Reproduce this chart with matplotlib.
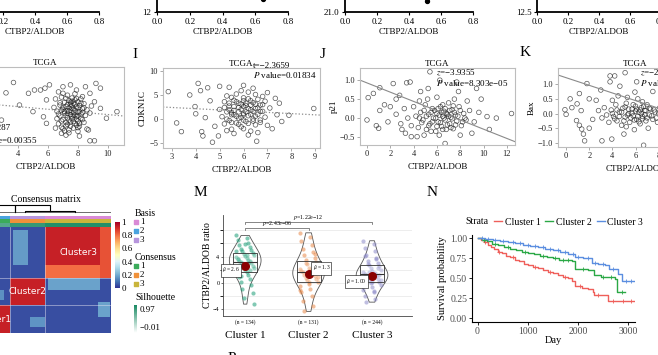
import matplotlib
matplotlib.use("Agg")
import matplotlib.pyplot as plt
import numpy as np
from matplotlib.cm import ScalarMappable
from matplotlib.colors import LinearSegmentedColormap, Normalize
from matplotlib.lines import Line2D

plt.rcParams["font.family"] = ["Liberation Serif", "DejaVu Serif"]
plt.rcParams["mathtext.fontset"] = "stix"

# ---------------- data ----------------
# top strip (bottom edge of the panels above)
strip_ticks = [0.0, 0.2, 0.4, 0.6, 0.8]
strip_yticks = [[], [12], [21.0], [12.5]]
strip_ytick_labels = [[], ["12"], ["21.0"], ["12.5"]]
strip_ylims = [(0, 1), (12, 20), (21.0, 23.0), (12.5, 15.0)]
strip_pts_x = [[], [0.65], [0.51], []]
strip_pts_y = [[], [12.9], [21.2], []]

# H: TCGA scatter (cut at the left edge)
h_x = [3.2, 2.9, 3.7, 4.1, 4.7, 5.0, 5.1, 5.5, 5.8, 6.1, 5.9, 6.5, 6.9, 7.2, 8.1, 8.7,
       8.8, 9.1, 9.2, 9.5, 9.9, 10.6, 9.5, 9.1, 8.8, 8.5, 7.9, 7.5, 7.0, 6.7, 5.7, 5.9,
       6.5, 6.6, 6.7, 6.8, 6.8, 6.9, 6.9, 7.0, 7.0, 7.1, 7.1, 7.2, 7.2, 7.3, 7.3, 7.3,
       7.4, 7.4, 7.5, 7.5, 7.5, 7.6, 7.6, 7.6, 7.7, 7.7, 7.7, 7.8, 7.8, 7.8, 7.9, 7.9,
       8.0, 8.0, 8.0, 8.1, 8.1, 8.2, 8.2, 8.3, 8.3, 8.4, 8.4, 8.5, 8.6, 8.6, 7.2, 7.4,
       7.6, 7.9, 7.1, 8.2, 6.6, 6.4, 8.8, 8.9, 7.0, 7.8, 7.4, 8.0,
       6.7, 6.8, 6.9, 7.0, 7.0, 7.1, 7.2, 7.2, 7.3, 7.3, 7.4, 7.4, 7.5, 7.5, 7.6, 7.6,
       7.7, 7.7, 7.8, 7.8, 7.9, 7.9, 8.0, 8.0, 8.1, 8.1, 8.2, 8.3, 8.3, 8.4, 7.5, 7.3,
       7.7, 8.0, 6.9]
h_y = [5.1, -0.7, 7.3, 2.5, 5.0, 1.1, 5.7, 5.7, 6.1, 6.8, 3.6, -2.4, -3.5, -3.9, -4.1, -2.8,
       -5.1, -5.1, 7.1, 6.1, -0.3, 1.1, 1.8, 3.2, 5.0, 6.4, 5.7, 6.8, 6.4, 5.3, 0.0, -1.4,
       3.8, 1.2, -1.5, 2.5, 0.2, 4.2, -2.2, 1.6, -0.6, 3.1, 0.8, -1.9, 2.2, 4.6, -0.2, 1.3,
       -2.8, 3.5, 0.5, 2.7, -1.1, 1.8, -0.4, 4.0, 0.9, -2.4, 2.9, 1.4, -1.4, 3.6, 0.1, 2.1,
       -0.9, 1.0, 3.2, -2.0, 2.4, 0.6, -0.3, 1.7, 4.3, -1.2, 2.8, 0.3, 1.5, -2.6, 0.3, 1.9,
       3.3, -1.8, -3.0, 3.8, -0.4, 2.0, 0.8, 2.3, 5.0, 4.9, -3.4, -3.1,
       0.6, 3.0, -0.9, 2.0, -2.5, 1.1, 3.9, -1.2, 0.7, 2.6, -0.7, 1.2, 3.1, -2.0, 0.1, 2.4,
       -1.0, 1.6, 0.4, 2.7, -0.5, 3.9, 1.9, 0.2, -1.4, 1.1, 2.9, -0.6, 0.9, 1.9, 1.4, -1.6,
       0.3, -2.3, 1.4]

# I: CDKN1C
i_x = [2.85, 3.2, 3.4, 3.75, 3.97, 4.1, 4.2, 4.25, 4.3, 4.5, 4.7, 4.95, 8.94, 7.9, 7.33, 7.4,
       6.55, 6.6, 4.0, 4.4, 4.6, 5.0, 5.4, 6.0, 6.4, 7.0, 7.5, 7.2, 7.6, 4.8,
       5.0, 5.1, 5.2, 5.2, 5.3, 5.3, 5.4, 5.4, 5.5, 5.5, 5.6, 5.6, 5.7, 5.7, 5.8, 5.8,
       5.9, 5.9, 6.0, 6.0, 6.1, 6.1, 6.2, 6.2, 6.3, 6.3, 6.4, 6.4, 6.5, 6.5, 6.6, 6.6,
       6.7, 6.7, 6.8, 6.9, 6.9, 7.0, 7.1, 5.6, 5.9, 6.2, 6.5, 5.3, 6.0, 5.5, 6.8, 5.8,
       6.3, 6.0,
       5.2, 5.3, 5.4, 5.5, 5.5, 5.6, 5.7, 5.7, 5.8, 5.8, 5.9, 5.9, 6.0, 6.0, 6.1, 6.1,
       6.2, 6.2, 6.3, 6.3, 6.4, 6.4, 6.5, 6.5, 6.6, 6.7, 6.7, 6.8, 5.6, 6.0, 6.2, 5.4]
i_y = [5.7, -0.8, -2.6, 5.0, 2.6, 7.4, 5.9, -2.6, -3.5, 6.5, -4.8, -3.5, 2.2, 0.8, 4.3, 0.9,
       -4.6, -2.8, 1.1, 0.3, 3.8, 6.8, 6.6, 7.0, 6.4, 5.5, 3.3, -2.0, -0.5, -1.5,
       2.0, 0.5, 3.6, -1.0, 1.5, 4.8, -0.3, 2.7, 0.9, -2.1, 3.9, 1.8, -0.8, 5.2, 2.4, 0.2,
       3.1, -1.6, 1.2, 4.4, -0.5, 2.8, 0.7, 5.6, 1.9, -2.5, 3.4, 0.0, 2.2, -1.2, 4.1, 1.0,
       2.9, -0.7, 1.6, 3.7, 0.4, -1.3, 2.3, -3.0, 5.9, -3.3, 5.1, -2.4, -2.0, 4.5, 4.7, 3.3,
       3.8, 2.6,
       2.4, 0.0, 3.3, 1.3, -0.7, 2.6, 0.6, 3.6, 1.5, -1.1, 2.0, 0.3, 3.8, -0.2, 1.5, 3.3,
       2.2, -0.9, 1.0, 2.9, 1.6, -0.4, 3.1, 0.6, 2.3, -0.2, 1.6, 3.0, 0.9, 0.9, 4.2, 1.9]

# J: p21
j_x = [0.0, 0.1, 0.55, 1.1, 1.0, 1.1, 2.25, 2.5, 3.4, 3.7, 3.8, 4.3, 5.25, 5.4, 6.25, 6.7,
       7.7, 7.85, 9.4, 10.3, 11.1, 12.4, 0.8, 1.5, 1.8, 2.0, 2.8, 3.0, 4.6, 8.6, 9.8, 10.5,
       9.0, 6.0, 4.9,
       2.5, 2.9, 3.2, 3.5, 3.8, 4.0, 4.2, 4.4, 4.6, 4.8, 5.0, 5.1, 5.3, 5.4, 5.6, 5.7,
       5.9, 6.0, 6.1, 6.3, 6.4, 6.5, 6.6, 6.7, 6.8, 6.9, 7.0, 7.1, 7.2, 7.3, 7.4, 7.6,
       7.7, 7.9, 8.1, 8.3, 8.5, 8.8, 9.2, 9.6, 6.2, 5.2, 7.5, 4.5, 3.3, 8.0,
       4.5, 4.7, 4.9, 5.1, 5.3, 5.5, 5.6, 5.8, 5.9, 6.0, 6.1, 6.2, 6.3, 6.4, 6.5, 6.6,
       6.7, 6.8, 6.9, 7.0, 7.1, 7.2, 7.3, 7.5, 7.6, 7.8, 8.0, 8.2, 8.4, 6.5, 5.5, 7.4]
j_y = [-0.05, 0.54, 0.65, 0.8, -0.27, 0.2, 0.91, 0.5, 0.93, 0.95, -0.49, -0.49, 0.78, 1.22, 1.0, -0.67,
       0.95, 0.7, 0.78, 0.04, 0.0, 0.12, -0.2, 0.35, -0.1, 0.3, 0.6, -0.3, 0.7, 0.45, 0.5, -0.3,
       -0.4, 0.55, -0.45,
       0.1, -0.15, 0.25, 0.0, -0.2, 0.3, 0.05, -0.25, 0.15, -0.05, 0.35, -0.3, 0.1, -0.15, 0.25, 0.0,
       -0.35, 0.12, -0.1, 0.3, -0.22, 0.05, 0.18, -0.05, -0.3, 0.1, 0.4, -0.15, 0.02, 0.22, -0.28, 0.08,
       -0.08, 0.3, -0.2, 0.12, -0.05, 0.2, -0.1, 0.15, -0.45, 0.5, 0.5, 0.45, -0.4, -0.45,
       0.0, -0.12, 0.2, 0.05, -0.2, 0.15, -0.1, 0.2, 0.0, -0.22, 0.25, 0.08, -0.12, 0.15, -0.3, 0.0,
       0.25, 0.12, -0.18, 0.05, 0.2, -0.25, -0.02, 0.15, -0.18, 0.05, 0.2, -0.1, 0.0, 0.35, -0.35, 0.32]

# K: Bax
k_x = [-0.1, 0.0, 0.35, 0.9, 0.95, 1.15, 1.15, 1.35, 1.5, 1.6, 1.8, 3.8, 3.8, 4.2, 4.65, 5.1,
       6.1, 5.95, 6.7, 3.1, 3.95, 0.5, 1.3, 2.0, 2.3, 2.6, 3.0, 7.5, 2.0, 5.0,
       2.8, 3.1, 3.3, 3.5, 3.7, 3.9, 4.1, 4.3, 4.4, 4.6, 4.8, 4.9, 5.1, 5.2, 5.4, 5.5,
       5.7, 5.8, 6.0, 6.1, 6.3, 6.4, 6.5, 6.6, 6.8, 6.9, 7.0, 7.2, 7.3, 7.5, 7.7, 7.9,
       8.1, 8.3, 5.3, 6.2, 4.0, 5.9, 7.1, 4.5,
       4.0, 4.2, 4.4, 4.6, 4.8, 5.0, 5.1, 5.3, 5.4, 5.6, 5.7, 5.8, 5.9, 6.0, 6.1, 6.2,
       6.3, 6.4, 6.5, 6.6, 6.7, 6.8, 6.9, 7.0, 7.2, 7.4, 7.6, 7.8, 8.0, 8.2, 6.6, 5.2]
k_y = [0.13, -0.03, 0.5, -0.24, 0.33, 0.68, -0.4, -0.53, -0.7, -0.93, 1.02, 1.08, 1.28, 1.28, 0.93, 1.39,
       1.08, 0.73, -1.08, -0.93, -0.87, 0.2, 0.1, 0.5, -0.2, 0.45, 0.8, 0.75, -0.5, -0.7,
       0.1, -0.15, 0.2, -0.05, -0.3, 0.12, -0.1, 0.3, -0.25, 0.05, -0.4, 0.18, -0.12, 0.35, 0.0, -0.3,
       0.15, -0.08, 0.25, -0.2, 0.05, -0.35, 0.2, -0.1, 0.1, -0.25, 0.3, -0.05, 0.15, -0.2, 0.05, -0.3,
       0.2, -0.1, 0.55, 0.5, 0.45, -0.55, -0.5, 0.6,
       0.0, -0.18, 0.12, -0.1, 0.05, -0.25, 0.22, -0.05, 0.15, -0.15, 0.02, 0.3, -0.22, 0.08, 0.15, -0.1,
       -0.28, 0.12, 0.0, -0.18, 0.25, -0.05, 0.1, -0.15, 0.18, -0.08, 0.12, -0.15, 0.02, 0.1, 0.4, -0.45]

# fitted lines (intercept, slope) and stats text
fits = {"H": (3.30, -0.283), "I": (3.17, -0.254), "J": (0.927, -0.122), "K": (1.22, -0.13)}
notes = {"H": ["t=−2.9287", "$P$ value=0.00355"],
         "I": ["t=−2.3659", "$P$ value=0.01834"],
         "J": ["$z$=−3.9355", "$P$ value=8.303e−05"],
         "K": ["$z$=−2.9712", "$P$ value=0.00297"]}

# L: consensus clustering
cluster_sizes = [134, 131, 244]
cons_within = 0.93
cons_between = 0.04
# (col0, col1, row0, row1, value)
cons_patches = [(145, 200, 327, 495, 0.17), (275, 468, 207, 264, 0.18),
                (265, 468, 265, 327, 0.80), (468, 509, 265, 509, 0.84),
                (461, 506, 77, 149, 0.18), (208, 265, 29, 77, 0.16),
                (97, 112, 159, 207, 0.15)]
basis_of_cluster = [2, 3, 1]
silhouette_of_cluster = [0.72, 0.85, 0.93]
basis_colors = ["#d98ad6", "#4aa3df", "#b795dd"]
consensus_colors = ["#3bab5a", "#f0913a", "#c9b53b"]
# dendrogram merges: (x_a, x_b, height, h_a, h_b) in leaf order
dend_merges = [(-80, 152, 1.0, 0.1, 0.1), (152, 283, 1.0, 0.1, 0.3), (190, 376, 0.3, 0.1, 0.1)]

# M: ratio by cluster
m_groups = ["Cluster 1", "Cluster 2", "Cluster 3"]
m_n = [134, 131, 244]
m_c1 = [7.2, 6.8, 6.5, 6.1, 5.8, 5.5, 5.2, 5.0, 4.8, 4.6, 4.4, 4.2, 4.1, 3.9, 3.8, 3.6, 3.5, 3.4, 3.3,
        3.2, 3.0, 2.8, 2.6, 2.4, 2.2, 2.0, 1.8, 1.7, 1.5, 1.2, 0.9, 0.6, 0.2, -0.3, -0.9, -1.5, -2.2, -3.2,
        5.9, 4.9, 4.3, 3.7, 3.1, 2.5, 1.9, 1.0]
m_c2 = [7.6, 7.0, 6.4, 5.8, 5.2, 4.7, 4.2, 3.8, 3.5, 3.2, 2.9, 2.6, 2.3, 2.1, 1.9, 1.8, 1.7, 1.6,
        1.4, 1.2, 1.0, 0.8, 0.6, 0.4, 0.2, -0.1, -0.5, -0.9, -1.4, -2.0, -2.7, -3.5, -4.3,
        4.4, 3.0, 2.2, 1.5, 0.9, 0.1, -1.1]
m_c3 = [6.4, 5.9, 5.3, 4.8, 4.3, 3.8, 3.4, 3.0, 2.7, 2.5, 2.2, 2.0, 1.8, 1.6, 1.4, 1.3, 1.2, 1.1,
        1.0, 0.8, 0.6, 0.4, 0.2, 0.0, -0.3, -0.6, -1.0, -1.4, -1.9, -2.4, -2.9,
        3.6, 2.9, 2.3, 1.7, 1.2, 0.9, 0.5, 0.1, -0.4, -1.2, 4.1, 1.5]
m_means = [2.6, 1.3, 1.0]
m_mean_labels = ["2.6", "1.3", "1.00"]
m_colors = ["#1b9e77", "#e8894a", "#8d8bc9"]
m_pvals = [(1, 3, "$p$=1.22e−12"), (1, 2, "$p$=2.43e−06")]

# N: Kaplan-Meier
km_labels = ["Cluster 1", "Cluster 2", "Cluster 3"]
km_colors = ["#ef5f5a", "#2aa845", "#5b8ee0"]
km_t1 = [0, 60, 130, 200, 260, 330, 400, 480, 560, 650, 740, 830, 920, 1010, 1100, 1200, 1300,
         1400, 1500, 1600, 1700, 1800, 1880, 1950, 2080, 2200, 2300, 2330, 2590, 3130]
km_s1 = [1.0, 0.98, 0.95, 0.92, 0.89, 0.86, 0.83, 0.81, 0.78, 0.76, 0.73, 0.71, 0.68, 0.66, 0.64,
         0.63, 0.60, 0.58, 0.56, 0.54, 0.52, 0.50, 0.47, 0.40, 0.38, 0.36, 0.33, 0.29, 0.22, 0.22]
km_t2 = [0, 80, 180, 290, 400, 520, 640, 760, 880, 1000, 1120, 1250, 1380, 1500, 1630, 1890,
         1950, 2200, 2320, 2450, 2740, 2780, 2940]
km_s2 = [1.0, 0.98, 0.96, 0.93, 0.91, 0.89, 0.87, 0.85, 0.83, 0.81, 0.80, 0.78, 0.76, 0.75, 0.73,
         0.72, 0.62, 0.60, 0.54, 0.52, 0.49, 0.33, 0.33]
km_t3 = [0, 150, 300, 450, 600, 750, 900, 1050, 1200, 1350, 1500, 1650, 1800, 1950, 2100, 2280,
         2400, 2540, 2610, 2800, 2870, 3130]
km_s3 = [1.0, 0.99, 0.98, 0.97, 0.95, 0.94, 0.92, 0.90, 0.89, 0.87, 0.85, 0.83, 0.80, 0.77, 0.75,
         0.69, 0.68, 0.66, 0.62, 0.55, 0.46, 0.46]
km_cens1 = [150, 420, 700, 1150, 1450, 1750, 2050, 2400, 2700, 2900, 3050]
km_cens2 = [120, 350, 600, 950, 1300, 1550, 1700, 1800, 2100, 2500, 2650, 2880]
km_cens3 = [80, 200, 350, 500, 700, 850, 1000, 1150, 1300, 1450, 1600, 1750, 1900, 2000, 2200,
            2350, 2500, 2700, 2950, 3050]

# ---------------- figure ----------------
W, H = 658, 355
fig = plt.figure(figsize=(W / 100, H / 100), dpi=100)


def box(l, t, r, b):
    return fig.add_axes([l / W, 1 - b / H, (r - l) / W, (b - t) / H])


# top strip
strip_boxes = [(-29, -100, 99, 12), (157, -100, 288, 12), (345, -100, 473, 12), (537, -100, 661, 12)]
for k, bx in enumerate(strip_boxes):
    ax = box(*bx)
    ax.set_facecolor("none")
    ax.set_xlim(0, 0.8)
    ax.set_ylim(*strip_ylims[k])
    for s in ["top", "right"]:
        ax.spines[s].set_visible(False)
    for s in ["left", "bottom"]:
        ax.spines[s].set_linewidth(1.3)
    ax.set_xticks(strip_ticks)
    ax.set_xticklabels([f"{v:.1f}" for v in strip_ticks])
    ax.set_yticks(strip_yticks[k])
    ax.set_yticklabels(strip_ytick_labels[k])
    ax.tick_params(labelsize=6.5, length=2.5, width=0.8, pad=1.5)
    ax.set_xlabel("CTBP2/ALDOB", fontsize=6.5, labelpad=2)
    ax.scatter(strip_pts_x[k], strip_pts_y[k], s=8, color="black", clip_on=False)

# scatter panels
scat = [
    ("H", (-33, 67, 124, 145), h_x, h_y, (0.6, 11.07), (-6.0, 10.6), [2, 4, 6, 8, 10], [-5, 0, 5, 10],
     ":", "", (0.045, 0.22, 0.064)),
    ("I", (163, 68, 320, 148), i_x, i_y, (2.63, 9.2), (-6.0, 10.6), [3, 4, 5, 6, 7, 8, 9], [-5, 0, 5, 10],
     ":", "CDKN1C", (0.575, 1.02, 0.91)),
    ("J", (360, 68, 515, 145), j_x, j_y, (-0.6, 12.7), (-0.71, 1.32), [0, 2, 4, 6, 8, 10, 12],
     [-0.5, 0.0, 0.5, 1.0], "-", "p21", (0.49, 0.935, 0.805)),
    ("K", (558, 68, 713, 147), k_x, k_y, (-0.7, 12.7), (-1.14, 1.55), [0, 2, 4, 6, 8],
     [-1.0, -0.5, 0.0, 0.5, 1.0], "-", "Bax", (0.53, 0.937, 0.81)),
]
for key, bx, xs, ys, xl, yl, xt, yt, ls, ylab, npos in scat:
    ax = box(*bx)
    ax.set_xlim(*xl)
    ax.set_ylim(*yl)
    ax.scatter(xs, ys, s=11, facecolors="none", edgecolors="#1e1e1e", linewidths=0.5, alpha=0.75)
    b0, b1 = fits[key]
    ax.axline((0, b0), slope=b1, color="#8a8a8a", lw=0.8 if ls == "-" else 0.9, ls=ls)
    ax.set_xticks(xt)
    ax.set_yticks(yt)
    if key in ("J", "K"):
        ax.set_yticklabels([f"{v:.1f}".replace("-", "−") for v in yt])
    for s in ax.spines.values():
        s.set_color("#bdbdbd")
        s.set_linewidth(0.8)
    ax.tick_params(labelsize=6, length=2, width=0.5, color="#888888", pad=1.5, labelcolor="#222222")
    ax.set_title("TCGA", fontsize=6.5, pad=1.5)
    ax.set_xlabel("CTBP2/ALDOB", fontsize=6.5, labelpad=4)
    ax.set_ylabel(ylab, fontsize=6.5, labelpad=1.5)
    ax.text(npos[0], npos[1], notes[key][0], transform=ax.transAxes, fontsize=6.5, va="center")
    ax.text(npos[0], npos[2], notes[key][1], transform=ax.transAxes, fontsize=6.5, va="center")

# consensus heatmap
bounds = np.cumsum([0] + cluster_sizes)
n_all = bounds[-1]
cons = np.full((n_all, n_all), cons_between)
for k in range(3):
    cons[bounds[k]:bounds[k + 1], bounds[k]:bounds[k + 1]] = cons_within
for c0, c1, r0, r1, v in cons_patches:
    cons[r0:r1, c0:c1] = v
hm = box(-26, 227, 111, 333)
hm.imshow(cons, origin="lower", cmap="RdYlBu_r", vmin=0, vmax=1, aspect="auto",
          interpolation="nearest", extent=(0, n_all, 0, n_all))
for b in bounds[1:-1]:
    hm.axhline(b, color="#e0e0f0", lw=0.5, alpha=0.7)
    hm.axvline(b, color="#e0e0f0", lw=0.5, alpha=0.7)
for k in range(3):
    c = (bounds[k] + bounds[k + 1]) / 2
    hm.text(c, c, f"Cluster{k + 1}", color="white", fontsize=6.5, family="DejaVu Sans",
            ha="center", va="center")
hm.axis("off")

# annotation rows
labels = np.repeat(np.arange(3), cluster_sizes)
sil_cmap = LinearSegmentedColormap.from_list("sil", ["#ffffff", "#13875f"])
ann = np.zeros((3, n_all, 4))
ann[0] = [matplotlib.colors.to_rgba(basis_colors[basis_of_cluster[c] - 1]) for c in labels]
ann[1] = [matplotlib.colors.to_rgba(consensus_colors[c]) for c in labels]
ann[2] = [sil_cmap(silhouette_of_cluster[c]) for c in labels]
an = box(-26, 216, 111, 227)
an.imshow(ann, aspect="auto", interpolation="nearest", extent=(0, n_all, 3, 0))
an.axis("off")

# dendrogram
dn = box(-26, 205, 111, 213)
dn.set_xlim(0, n_all)
dn.set_ylim(0, 1.0)
dn.plot([0, n_all], [0.1, 0.1], color="#555555", lw=0.6)
for xa, xb, hh, ha, hb in dend_merges:
    dn.plot([xa, xa, xb, xb], [ha, hh, hh, hb], color="black", lw=0.8, clip_on=False)
dn.axis("off")

# colour bar
cax = box(115, 222, 120, 288)
cb = fig.colorbar(ScalarMappable(Normalize(0, 1), "RdYlBu_r"), cax=cax)
cb.set_ticks([0, 0.2, 0.4, 0.6, 0.8, 1])
cb.set_ticklabels(["0", "0.2", "0.4", "0.6", "0.8", "1"])
cb.outline.set_visible(False)
cax.tick_params(labelsize=6.5, length=0, pad=1)

sil_ax = box(134, 305, 137, 333)
sil_ax.imshow(np.linspace(1, 0, 50)[:, None], cmap=sil_cmap, aspect="auto")
sil_ax.axis("off")

# M: violin panel
m_vals = [m_c1, m_c2, m_c3]
ma = box(223, 215, 412, 316)
ma.set_xlim(0.65, 3.63)
ma.set_ylim(-5.0, 10.3)
ma.set_yticks([-4, 0, 4])
ma.set_yticks([-2, 2, 6, 8], minor=True)
ma.grid(True, axis="y", which="both", color="#e6e6e6", lw=0.5)
ma.set_axisbelow(True)
vp = ma.violinplot(m_vals, positions=[1, 2, 3], widths=0.5, showextrema=False)
for body in vp["bodies"]:
    body.set_facecolor("none")
    body.set_edgecolor("#555555")
    body.set_linewidth(0.6)
    body.set_alpha(1)
for k, vals in enumerate(m_vals):
    n = len(vals)
    jit = ((np.arange(n) * 7) % 13 - 6) / 6 * 0.14
    ma.scatter(k + 1 + jit, vals, s=9, color=m_colors[k], alpha=0.55, lw=0, zorder=2)
bp = ma.boxplot(m_vals, positions=[1, 2, 3], widths=0.38, showfliers=False, patch_artist=True,
                showcaps=False, whis=0)
for patch in bp["boxes"]:
    patch.set_facecolor((1, 1, 1, 0.25))
    patch.set_edgecolor("#333333")
    patch.set_linewidth(0.6)
for med in bp["medians"]:
    med.set_color("#333333")
    med.set_linewidth(0.8)
for w in bp["whiskers"]:
    w.set_linewidth(0)
ma.scatter([1, 2, 3], m_means, s=30, color="#8b0000", zorder=5)
lab_off = [(-0.22, -0.7), (0.2, 0.9), (-0.25, -0.8)]
for k in range(3):
    ma.text(k + 1 + lab_off[k][0], m_means[k] + lab_off[k][1], f"$\\hat{{\\mu}}$ = {m_mean_labels[k]}",
            fontsize=4, ha="center", va="center", zorder=6,
            bbox=dict(boxstyle="square,pad=0.25", fc="white", ec="black", lw=0.4))
for (g0, g1, txt), yb in zip(m_pvals, [9.24, 8.3]):
    ma.plot([g0, g0, g1, g1], [yb - 0.3, yb, yb, yb - 0.3], color="#555555", lw=0.5)
    ma.text((g0 + g1) / 2, yb + 0.05, txt, fontsize=4.2, ha="center", va="bottom")
ma.set_xticks([1, 2, 3])
ma.set_xticklabels(m_groups, fontsize=8)
ma.tick_params(axis="x", length=0, pad=11)
ma.tick_params(axis="y", labelsize=4.5, length=1.5, width=0.4, pad=1)
for k in range(3):
    ma.text(k + 1, -0.06, f"(n = {m_n[k]})", transform=ma.get_xaxis_transform(),
            fontsize=4, ha="center", va="center")
for s in ["top", "right"]:
    ma.spines[s].set_visible(False)
for s in ["left", "bottom"]:
    ma.spines[s].set_color("#444444")
    ma.spines[s].set_linewidth(0.6)
ma.set_ylabel("CTBP2/ALDOB ratio", fontsize=7, labelpad=1)

# N: survival
na = box(472, 235, 635, 322)
na.set_xlim(-110, 3137)
na.set_ylim(-0.046, 1.04)
km = [(km_t1, km_s1, km_cens1), (km_t2, km_s2, km_cens2), (km_t3, km_s3, km_cens3)]
for k, (tt, ss, cc) in enumerate(km):
    na.step(tt, ss, where="post", color=km_colors[k], lw=1.0)
    idx = np.searchsorted(tt, cc, side="right") - 1
    na.plot(cc, np.array(ss)[idx], "+", color=km_colors[k], ms=3, mew=0.6)
na.set_xticks([0, 1000, 2000, 3000])
na.set_yticks([0, 0.25, 0.5, 0.75, 1.0])
na.set_yticklabels(["0.00", "0.25", "0.50", "0.75", "1.00"])
for s in ["top", "right"]:
    na.spines[s].set_visible(False)
for s in ["left", "bottom"]:
    na.spines[s].set_linewidth(0.8)
na.tick_params(labelsize=7, length=2, width=0.6, pad=1.5, labelcolor="#4d4d4d")
na.set_xlabel("Day", fontsize=7.5, labelpad=0)
na.set_ylabel("Survival probability", fontsize=7.5, labelpad=2)
handles = [Line2D([], [], color=c, lw=1.0) for c in km_colors]
na.legend(handles, km_labels, loc="center left", bbox_to_anchor=(0.135, 1.149), ncol=3,
          frameon=False, fontsize=7, handlelength=0.8, handletextpad=0.3, columnspacing=0.5,
          borderpad=0, borderaxespad=0)

# overlay for panel letters and legend keys
ov = fig.add_axes([0, 0, 1, 1])
ov.set_xlim(0, W)
ov.set_ylim(H, 0)
ov.axis("off")
for letter, x, y in [("I", 135, 55), ("J", 323, 55), ("K", 525, 53), ("M", 200, 192),
                     ("N", 432, 192), ("P", 232, 358)]:
    ov.text(x, y, letter, fontsize=11, ha="center", va="center")
ov.text(465, 222, "Strata", fontsize=7, va="center")
ov.text(46, 199, "Consensus matrix", fontsize=7, ha="center", va="center")
ov.text(135, 213, "Basis", fontsize=7, va="center")
ov.text(135, 258, "Consensus", fontsize=7, va="center")
ov.text(135, 297, "Silhouette", fontsize=7, va="center")
for k in range(3):
    ov.scatter(136, 222 + 9 * k, marker="s", s=5, color=basis_colors[k])
    ov.text(140, 222 + 9 * k, str(k + 1), fontsize=6.5, va="center")
    ov.scatter(136, 266 + 9 * k, marker="s", s=5, color=consensus_colors[k])
    ov.text(140, 266 + 9 * k, str(k + 1), fontsize=6.5, va="center")
ov.text(140, 310, "0.97", fontsize=6.5, va="center")
ov.text(140, 328, "−0.01", fontsize=6.5, va="center")

fig.savefig("out.png", dpi=100)
